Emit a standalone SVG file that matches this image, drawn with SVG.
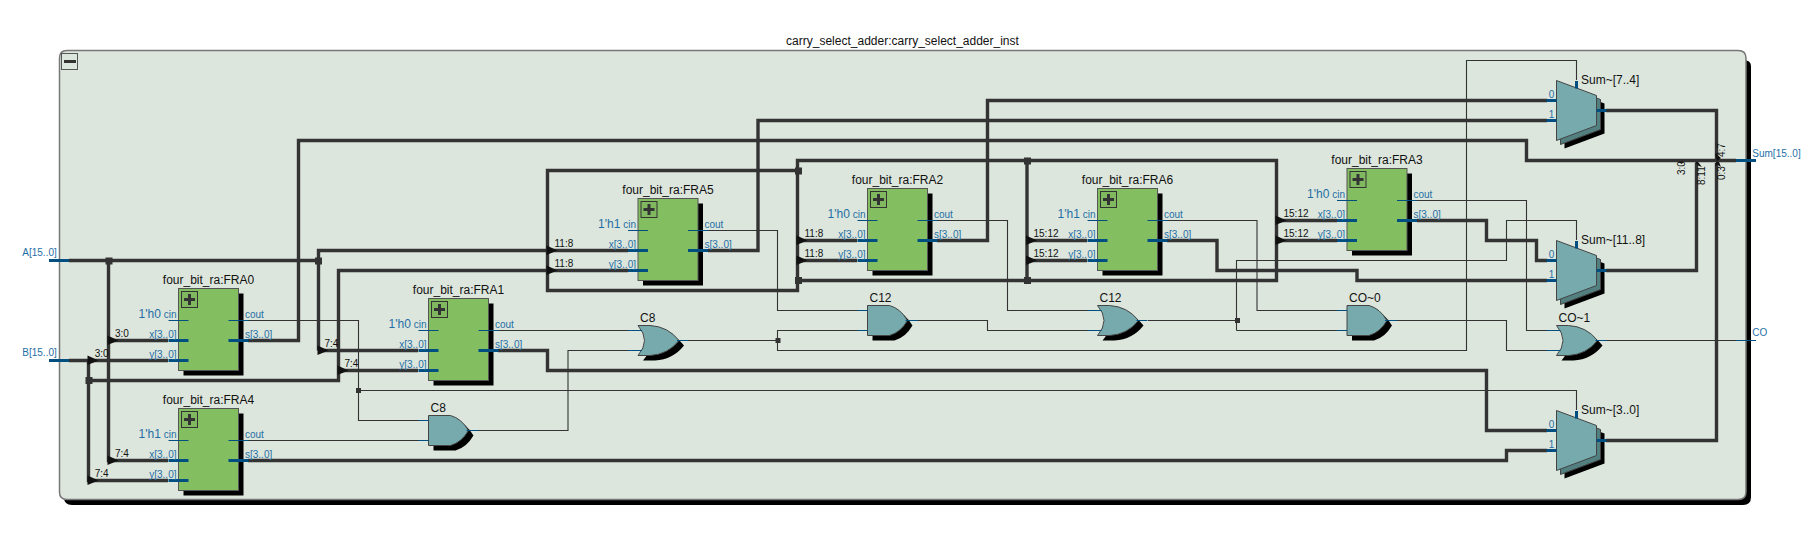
<svg xmlns="http://www.w3.org/2000/svg" width="1819" height="557" viewBox="0 0 1819 557">
<style>
text{font-family:"Liberation Sans",Arial,sans-serif;font-size:12px;fill:#111}
.b{fill:#1f6fa6;font-size:10px}
.b12{fill:#1f6fa6;font-size:12px}
.r{font-size:10px;fill:#111}
.e{text-anchor:end}
.m{text-anchor:middle}
.thick,.thin{fill:none;stroke:#333;stroke-linejoin:miter}
.thick{stroke-width:3.400}
.thin{stroke-width:1.100}
.sb,.st{fill:none;stroke:#004f80}
.sb{stroke-width:3}
.st{stroke-width:1}
.mod{fill:#83bf60;stroke:#555;stroke-width:1}
.sh{fill:#000;stroke:none}
.gate{fill:#76aaac;stroke:#444;stroke-width:1}
.mid{fill:#527f80;stroke:#444;stroke-width:1}
.j{fill:#333}
</style>
<defs>
<g id="module">
<rect class="sh" x="5" y="5" width="60" height="82"/>
<rect class="mod" width="60" height="82"/>
<rect x="3" y="3" width="16" height="16" fill="#80b860" stroke="#333"/>
<path d="M5.500 11H16.500M11 5.500V16.500" fill="none" stroke="#333" stroke-width="3"/>
<path class="st" d="M-10 32H10M50 32H70"/>
<path class="sb" d="M-10 52H10M50 52H70M-10 72H10"/>
<text class="b e" x="-2" y="29">cin</text>
<text class="b e" x="-2" y="49">x[3..0]</text>
<text class="b e" x="-2" y="69">y[3..0]</text>
<text class="b" x="66.500" y="29">cout</text>
<text class="b" x="66.500" y="49">s[3..0]</text>
</g>
<g id="mux">
<path class="sh" d="M8 8L48 23V53L8 68Z"/>
<path class="mid" d="M4 4L44 19V49L4 64Z"/>
<path class="gate" d="M0 0L40 15V45L0 60Z"/>
<path class="sb" d="M-10 20H0M-10 40H0M40 30H50M20 0.500V8"/>
<text class="b m" x="-5" y="17">0</text>
<text class="b m" x="-5" y="37">1</text>
</g>
<g id="and">
<path class="sh" d="M5 5H27Q38 8 45 20Q38 32 27 35H5Z"/>
<path class="gate" d="M0 0H22Q33 3 40 15Q33 27 22 30H0Z"/>
<path class="st" d="M-10 5H0M-10 25H0M38 15H50"/>
</g>
<g id="or">
<path class="sh" d="M5 5H17Q35 6 46 20Q35 34 17 35H5Q18 20 5 5Z"/>
<path class="gate" d="M0 0H12Q30 1 41 15Q30 29 12 30H0Q13 15 0 0Z"/>
<path class="st" d="M-10 5H4M-10 25H4M39 15H50"/>
</g>
<path id="rip" class="sh" style="fill:#111" d="M-1 -5L10 0L-1 4.500Z"/>
</defs>

<g id="frame">
<path class="sh" d="M64 60H1743Q1751 60 1751 66V497Q1751 505 1743 505H72Q64 505 64 497Z"/>
<path d="M59.500 58Q59.500 50.500 67 50.500H1738Q1746 50.500 1746 58V492Q1746 499.500 1738 499.500H67Q59.500 499.500 59.500 492Z" fill="#dde6dd" stroke="#777" stroke-width="1.500"/>
<rect x="61.500" y="53.500" width="16" height="16" fill="#dde6dd" stroke="#555"/>
<rect x="64" y="60" width="12" height="3" fill="#333"/>
<text class="m" x="902.500" y="45">carry_select_adder:carry_select_adder_inst</text>
</g>

<g id="connectors">
<path class="thin" d="M248 320.500H358.500V420.500H428M358.500 390.500H1576.500V410M248 440.500H428M478 430.500H568V350.500H638M498 330.500H638M688 340.500H777.500V330.500H867M777.500 340.500V350.500H1466.500V60.500H1576.500V80M708 230.500H777.500V310.500H867M917 320.500H987.500V330.500H1097M937 220.500H1007.500V310.500H1097M1148 320.500H1236.500M1236.500 330.500V260.500H1506.500V220.500H1576.500V240M1236.500 330.500H1347M1167 220.500H1257V310.500H1347M1397 320.500H1506.500V350.500H1557M1417 200.500H1526.500V330.500H1557M1597 340.500H1736"/>
<path class="thick" d="M69 260.500H318.500M318.500 350.500V250.500H628M108.500 260.500V460.500H168M108.500 340.500H168M318.500 350.500H418M69 360.500H168M88.500 360.500V480.500H168M88.500 380.500H338.500V270.500H628M338.500 370.500H418M248 340.500H298.500V140.500H1526.500V160.500H1736M708 250.500H758V120.500H1547M937 240.500H987.500V100.500H1547M797.500 170.500H547.500V290.500H797.500V160.500H1276.500V280.500H797.500M797.500 240.500H857M797.500 260.500H857M1027 160.500V280.500M1027 240.500H1087M1027 260.500H1087M1276.500 220.500H1337M1276.500 240.500H1337M1167 240.500H1217V270.500H1357V280.500H1547M1417 220.500H1486.500V240.500H1536.500V260.500H1547M498 350.500H547.500V370.500H1486.500V430.500H1547M248 460.500H1506.500V450.500H1547M1606 110.500H1716.500V160M1606 270.500H1696.500V163M1606 440.500H1716.500V163"/>
<rect class="j" x="105.500" y="257.500" width="7" height="7"/>
<rect class="j" x="315" y="257.500" width="7" height="7"/>
<rect class="j" x="85.500" y="377" width="7" height="7"/>
<rect class="j" x="795" y="167.500" width="7" height="7"/>
<rect class="j" x="795" y="277" width="7" height="7"/>
<rect class="j" x="1024" y="157.500" width="7" height="7"/>
<rect class="j" x="1024" y="277" width="7" height="7"/>
<rect class="j" x="356" y="388" width="5" height="5"/>
<rect class="j" x="775.500" y="338" width="5" height="5"/>
<rect class="j" x="1235" y="318" width="5" height="5"/>
<use href="#rip" x="108.500" y="340.500"/>
<use href="#rip" x="88.500" y="360.500"/>
<use href="#rip" x="108.500" y="460.500"/>
<use href="#rip" x="88.500" y="480.500"/>
<use href="#rip" x="318.500" y="350.500"/>
<use href="#rip" x="338.500" y="370.500"/>
<use href="#rip" x="547.500" y="250.500"/>
<use href="#rip" x="547.500" y="270.500"/>
<use href="#rip" x="797.500" y="240.500"/>
<use href="#rip" x="797.500" y="260.500"/>
<use href="#rip" x="1027" y="240.500"/>
<use href="#rip" x="1027" y="260.500"/>
<use href="#rip" x="1276.500" y="220.500"/>
<use href="#rip" x="1276.500" y="240.500"/>
<path class="sh" style="fill:#111" d="M1695 162H1698L1702 167L1698 165.500ZM1715 153L1721 158L1717 161ZM1715 167L1716 162H1719L1721 167L1717 164.500ZM1678 162H1683L1682 164Z"/>
<text class="r" x="115" y="337">3:0</text>
<text class="r" x="94.700" y="357">3:0</text>
<text class="r" x="115" y="457">7:4</text>
<text class="r" x="94.700" y="477">7:4</text>
<text class="r" x="324.500" y="347">7:4</text>
<text class="r" x="344.500" y="367">7:4</text>
<text class="r" x="554.500" y="247">11:8</text>
<text class="r" x="554.500" y="267">11:8</text>
<text class="r" x="804.500" y="237">11:8</text>
<text class="r" x="804.500" y="257">11:8</text>
<text class="r" x="1033.500" y="237">15:12</text>
<text class="r" x="1033.500" y="257">15:12</text>
<text class="r" x="1283.500" y="217">15:12</text>
<text class="r" x="1283.500" y="237">15:12</text>
<text class="r" transform="translate(1685 175) rotate(-90)">3:0</text>
<text class="r" transform="translate(1705 185) rotate(-90)">8:11</text>
<text class="r" transform="translate(1725 180) rotate(-90)">0:3</text>
<text class="r" transform="translate(1725 157) rotate(-90)">4:7</text>
</g>

<g id="A"><path class="sb" d="M49 260.500H69"/><text class="b" x="22.300" y="256">A[15..0]</text></g>
<g id="B"><path class="sb" d="M49 360.500H69"/><text class="b" x="22.300" y="356">B[15..0]</text></g>
<g id="Sum"><path class="sb" d="M1736 160.500H1756"/><text class="b" x="1752.300" y="156.500">Sum[15..0]</text></g>
<g id="CO"><path class="st" d="M1736 340.500H1756"/><text class="b" x="1752.300" y="336">CO</text></g>

<g id="FRA0" transform="translate(178.500 288.500)"><use href="#module"/><text class="m" x="30" y="-4.500">four_bit_ra:FRA0</text><text class="b12" x="-40" y="29">1'h0</text></g>
<g id="FRA4" transform="translate(178.500 408.500)"><use href="#module"/><text class="m" x="30" y="-4.500">four_bit_ra:FRA4</text><text class="b12" x="-40" y="29">1'h1</text></g>
<g id="FRA1" transform="translate(428.500 298.500)"><use href="#module"/><text class="m" x="30" y="-4.500">four_bit_ra:FRA1</text><text class="b12" x="-40" y="29">1'h0</text></g>
<g id="FRA5" transform="translate(638 198.500)"><use href="#module"/><text class="m" x="30" y="-4.500">four_bit_ra:FRA5</text><text class="b12" x="-40" y="29">1'h1</text></g>
<g id="FRA2" transform="translate(867.500 188.500)"><use href="#module"/><text class="m" x="30" y="-4.500">four_bit_ra:FRA2</text><text class="b12" x="-40" y="29">1'h0</text></g>
<g id="FRA6" transform="translate(1097.500 188.500)"><use href="#module"/><text class="m" x="30" y="-4.500">four_bit_ra:FRA6</text><text class="b12" x="-40" y="29">1'h1</text></g>
<g id="FRA3" transform="translate(1347 168.500)"><use href="#module"/><text class="m" x="30" y="-4.500">four_bit_ra:FRA3</text><text class="b12" x="-40" y="29">1'h0</text></g>

<g id="C8_and" transform="translate(428.500 415.500)"><use href="#and"/><text x="2" y="-4">C8</text></g>
<g id="C12_and" transform="translate(867.500 305.500)"><use href="#and"/><text x="2" y="-4">C12</text></g>
<g id="CO_0" transform="translate(1347 305.500)"><use href="#and"/><text x="2" y="-4">CO~0</text></g>
<g id="C8_or" transform="translate(638 325.500)"><use href="#or"/><text x="2" y="-4">C8</text></g>
<g id="C12_or" transform="translate(1097.500 305.500)"><use href="#or"/><text x="2" y="-4">C12</text></g>
<g id="CO_1" transform="translate(1556.500 325.500)"><use href="#or"/><text x="2" y="-4">CO~1</text></g>

<g id="Sum_7_4" transform="translate(1556.500 80.500)"><use href="#mux"/><text x="24.500" y="3.500">Sum~[7..4]</text></g>
<g id="Sum_11_8" transform="translate(1556.500 240.500)"><use href="#mux"/><text x="24.500" y="3.500">Sum~[11..8]</text></g>
<g id="Sum_3_0" transform="translate(1556.500 410.500)"><use href="#mux"/><text x="24.500" y="3.500">Sum~[3..0]</text></g>
</svg>
